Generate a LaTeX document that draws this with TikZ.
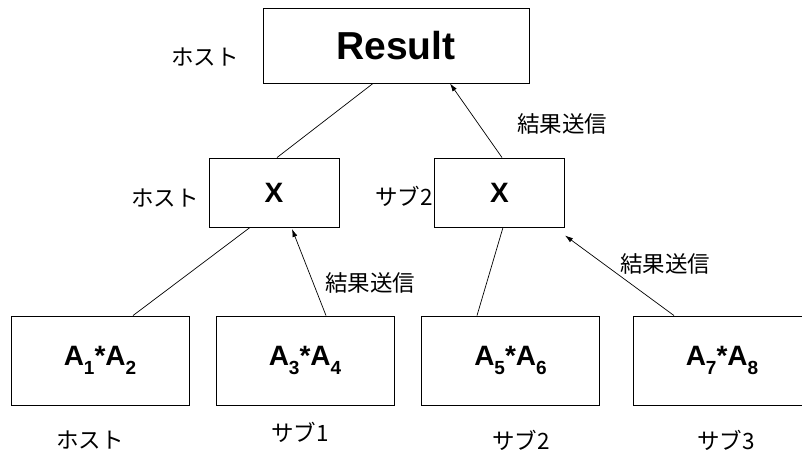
\documentclass[tikz,border=0pt]{standalone}
\usepackage{fontspec}
\setmainfont{Liberation Sans}
\newfontfamily\jp{Noto Sans CJK JP}
\usetikzlibrary{arrows.meta,calc}
\newcommand{\lowsub}[1]{\raisebox{-0.32em}{\fontsize{19}{19}\selectfont #1}}
\begin{document}
\begin{tikzpicture}[x=1pt,y=-1pt,
  box/.style={draw=black,line width=0.9pt,rectangle,inner sep=0pt,fill=white},
  top/.style={box,minimum width=266pt,minimum height=75pt,font=\fontsize{39}{41}\selectfont\bfseries},
  mid/.style={box,minimum width=130pt,minimum height=69pt,font=\fontsize{28}{30}\selectfont\bfseries},
  leaf/.style={box,minimum width=178pt,minimum height=89pt,font=\fontsize{28}{30}\selectfont\bfseries},
  lbl/.style={inner sep=0pt,font=\jp\fontsize{22.5}{24}\selectfont},
  conn/.style={line width=0.7pt,draw=black},
  arr/.style={conn,-{Latex[length=8pt,width=5pt]}}]
\useasboundingbox[fill=white] (0,0) rectangle (802,452);
% boxes
\node[top] (res) at (396,45.5) {Result};
\node[mid] (xl) at (274,192.5) {X};
\node[mid] (xr) at (499.5,192.5) {X};
\node[leaf] (b1) at (100,360.5) {A\lowsub{1}*A\lowsub{2}};
\node[leaf] (b2) at (305,360.5) {A\lowsub{3}*A\lowsub{4}};
\node[leaf] (b3) at (510.5,360.5) {A\lowsub{5}*A\lowsub{6}};
\node[leaf] (b4) at (722,360.5) {A\lowsub{7}*A\lowsub{8}};
% labels
\node[lbl] (l0) at (205,57) {ホスト};
\node[lbl] (l1) at (165,198) {ホスト};
\node[lbl, anchor=east] (l2) at (433,196) {サブ2};
\node[lbl] (s1) at (562,124) {結果送信};
\node[lbl] (s2) at (370,283) {結果送信};
\node[lbl] (s3) at (665,264) {結果送信};
\node[lbl] (h1) at (90,440) {ホスト};
\node[lbl] (h2) at (300,432) {サブ1};
\node[lbl] (h3) at (521,440) {サブ2};
\node[lbl] (h4) at (726,440) {サブ3};
% connectors
\draw[conn] ([xshift=-23pt]res.south) -- ([xshift=3pt]xl.north);
\draw[arr] ([xshift=2.5pt]xr.north) -- ([xshift=54pt]res.south);
\draw[conn] ([xshift=-24pt]xl.south) -- ([xshift=33pt]b1.north);
\draw[arr] ([xshift=21pt]b2.north) -- ([xshift=18pt,yshift=-1.5pt]xl.south);
\draw[conn] ([xshift=3.5pt]xr.south) -- ([xshift=-33.5pt]b3.north);
\draw[arr] ([xshift=-48pt]b4.north) -- ([yshift=-8pt]xr.south east);
\end{tikzpicture}
\end{document}
